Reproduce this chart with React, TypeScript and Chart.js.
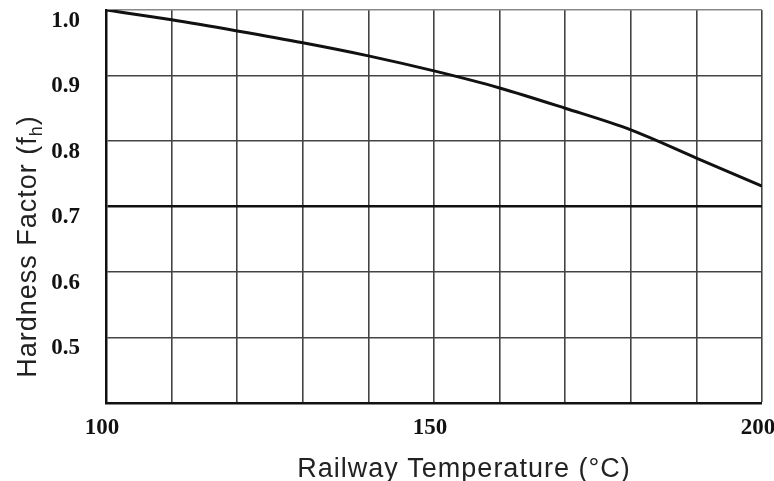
import React, { useEffect, useRef } from "react";
import { Chart, registerables } from "chart.js";

Chart.register(...registerables);

const temperatures = [100, 110, 120, 130, 140, 150, 160, 170, 180, 190, 200];
const hardnessFactor = [1.0, 0.985, 0.968, 0.95, 0.93, 0.907, 0.881, 0.85, 0.817, 0.774, 0.731];
const xTickLabels = [100, 150, 200];
const yTickLabels = [0.5, 0.6, 0.7, 0.8, 0.9, 1.0];
const xTitle = "Railway Temperature (°C)";
const yTitleMain = "Hardness Factor (f";
const yTitleSub = "h";
const yTitleEnd = ")";

const titlesPlugin = {
  id: "customTitles",
  afterDraw(chart: any) {
    const { ctx, chartArea } = chart;
    ctx.save();
    ctx.fillStyle = "#222";
    ctx.textBaseline = "alphabetic";
    ctx.textAlign = "left";
    (ctx as any).letterSpacing = "1px";
    // x title
    ctx.font = "27px 'Liberation Sans', Arial, sans-serif";
    const xw = ctx.measureText(xTitle).width;
    const xc = (chartArea.left + chartArea.right) / 2 + 30;
    ctx.fillText(xTitle, xc - xw / 2, chartArea.bottom + 74);
    // y title with subscript
    const mainFont = "27px 'Liberation Sans', Arial, sans-serif";
    const subFont = "18px 'Liberation Sans', Arial, sans-serif";
    ctx.font = mainFont;
    const w1 = ctx.measureText(yTitleMain).width;
    const w3 = ctx.measureText(yTitleEnd).width;
    ctx.font = subFont;
    const w2 = ctx.measureText(yTitleSub).width;
    const total = w1 + w2 + w3;
    const cy = (chartArea.top + chartArea.bottom) / 2 + 40;
    ctx.translate(chartArea.left - 70, cy);
    ctx.rotate(-Math.PI / 2);
    let x = -total / 2;
    ctx.font = mainFont;
    ctx.fillText(yTitleMain, x, 0);
    x += w1;
    ctx.font = subFont;
    ctx.fillText(yTitleSub, x, 6);
    x += w2;
    ctx.font = mainFont;
    ctx.fillText(yTitleEnd, x, 0);
    ctx.restore();
  },
};

export default function App() {
  const ref = useRef<HTMLCanvasElement | null>(null);
  useEffect(() => {
    document.body.style.margin = "0";
    const canvas = ref.current;
    if (!canvas) return;
    const chart = new Chart(canvas, {
      type: "line",
      data: {
        datasets: [
          {
            data: temperatures.map((t, i) => ({ x: t, y: hardnessFactor[i] })),
            borderColor: "#111",
            borderWidth: 3,
            pointRadius: 0,
            cubicInterpolationMode: "monotone",
            fill: false,
          },
        ],
      },
      options: {
        animation: false,
        responsive: true,
        maintainAspectRatio: false,
        layout: { padding: { top: 10, right: 12, left: 0, bottom: 0 } },
        plugins: { legend: { display: false }, tooltip: { enabled: false } },
        scales: {
          x: {
            type: "linear",
            min: 100,
            max: 200,
            border: { display: true, color: "#111", width: 2.5 },
            grid: {
              color: "#444",
              lineWidth: (c: any) => (c.tick && c.tick.value === 100 ? 0 : 1.6),
              drawTicks: false,
            },
            ticks: {
              stepSize: 10,
              autoSkip: false,
              maxRotation: 0,
              padding: 11,
              labelOffset: -4,
              color: "#111",
              font: { family: "'Liberation Serif', 'Times New Roman', serif", size: 23, weight: "bold" },
              callback: (v: any) => (xTickLabels.includes(Number(v)) ? String(v) : ""),
            },
            afterFit: (s: any) => {
              s.height = 78;
              s.paddingLeft = 0;
              s.paddingRight = 0;
            },
          },
          y: {
            type: "linear",
            min: 0.4,
            max: 1.0,
            border: { display: true, color: "#111", width: 2.5 },
            grid: {
              color: (c: any) =>
                c.tick && Math.abs(c.tick.value - 0.7) < 1e-6 ? "#111" : c.tick && Math.abs(c.tick.value - 1.0) < 1e-6 ? "#888" : "#444",
              lineWidth: (c: any) =>
                c.tick && Math.abs(c.tick.value - 0.7) < 1e-6 ? 2.4 : c.tick && Math.abs(c.tick.value - 0.4) < 1e-6 ? 0 : 1.6,
              drawTicks: false,
            },
            ticks: {
              stepSize: 0.1,
              autoSkip: false,
              padding: 26,
              labelOffset: 11,
              color: "#111",
              font: { family: "'Liberation Serif', 'Times New Roman', serif", size: 23, weight: "bold" },
              callback: (v: any) => {
                const n = Math.round(Number(v) * 10) / 10;
                return yTickLabels.some((l) => Math.abs(l - n) < 1e-6) ? n.toFixed(1) : "";
              },
            },
            afterFit: (s: any) => {
              s.width = 106;
              s.paddingTop = 0;
              s.paddingBottom = 0;
            },
          },
        },
      },
      plugins: [titlesPlugin],
    } as any);
    return () => chart.destroy();
  }, []);
  return (
    <div style={{ position: "absolute", left: 0, top: 0, width: 774, height: 481, background: "#fff" }}>
      <canvas ref={ref} />
    </div>
  );
}
